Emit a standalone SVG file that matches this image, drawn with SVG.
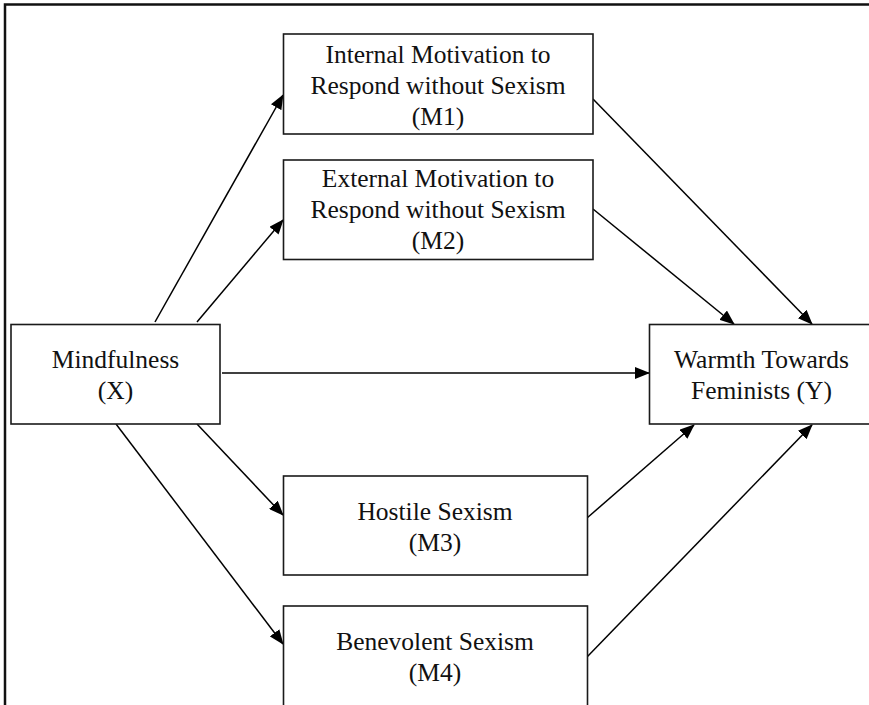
<svg xmlns="http://www.w3.org/2000/svg" width="869" height="705" viewBox="0 0 869 705">
<style>
.box{fill:#fff;stroke:#1a1a1a;stroke-width:1.6}
.lbl{font-family:"Liberation Serif","Times New Roman",serif;font-size:25.5px;fill:#111;text-anchor:middle}
.edge{stroke:#000;stroke-width:1.5;fill:none;marker-end:url(#ah)}
.frame{stroke:#111;stroke-width:2.5;fill:none}
</style>
<defs>
<marker id="ah" markerUnits="userSpaceOnUse" markerWidth="15" markerHeight="12" viewBox="0 0 15 12" refX="14" refY="6" orient="auto">
<path d="M0,0 L15,6 L0,12 z" fill="#000"/>
</marker>
</defs>
<rect width="869" height="705" fill="#fff"/>
<path class="frame" d="M5,705 L5,4.5 L869,4.5"/>
<g id="connectors">
<line class="edge" x1="155" y1="322" x2="283" y2="95"/>
<line class="edge" x1="197" y1="322" x2="283" y2="220"/>
<line class="edge" x1="222" y1="373" x2="649" y2="373"/>
<line class="edge" x1="197" y1="424" x2="283" y2="515"/>
<line class="edge" x1="116" y1="424" x2="283" y2="644"/>
<line class="edge" x1="593" y1="99" x2="812" y2="324"/>
<line class="edge" x1="593" y1="209" x2="734" y2="324"/>
<line class="edge" x1="587" y1="518" x2="694" y2="425"/>
<line class="edge" x1="587" y1="657" x2="812" y2="425"/>
</g>
<g id="M1">
<rect class="box" x="283.5" y="34" width="309.5" height="100"/>
<text class="lbl" x="438" y="63">Internal Motivation to</text>
<text class="lbl" x="438" y="94">Respond without Sexism</text>
<text class="lbl" x="438" y="125">(M1)</text>
</g>
<g id="M2">
<rect class="box" x="283.5" y="160" width="309.5" height="99.5"/>
<text class="lbl" x="438" y="187">External Motivation to</text>
<text class="lbl" x="438" y="218">Respond without Sexism</text>
<text class="lbl" x="438" y="249">(M2)</text>
</g>
<g id="X">
<rect class="box" x="11" y="324.5" width="209" height="99.5"/>
<text class="lbl" x="115.5" y="368">Mindfulness</text>
<text class="lbl" x="115.5" y="399">(X)</text>
</g>
<g id="Y">
<rect class="box" x="649.5" y="324.5" width="230" height="99.5"/>
<text class="lbl" x="761.5" y="368">Warmth Towards</text>
<text class="lbl" x="761.5" y="399">Feminists (Y)</text>
</g>
<g id="M3">
<rect class="box" x="283.5" y="476" width="304" height="99"/>
<text class="lbl" x="435" y="520">Hostile Sexism</text>
<text class="lbl" x="435" y="551">(M3)</text>
</g>
<g id="M4">
<rect class="box" x="283.5" y="606" width="304" height="110"/>
<text class="lbl" x="435" y="650">Benevolent Sexism</text>
<text class="lbl" x="435" y="681">(M4)</text>
</g>
</svg>
